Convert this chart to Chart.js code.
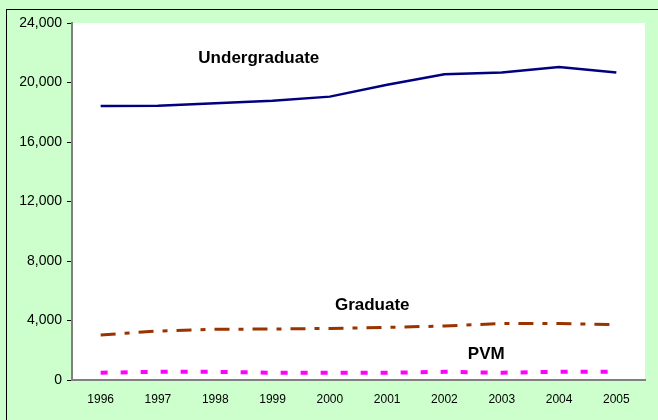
<!DOCTYPE html>
<html>
<head>
<meta charset="utf-8">
<script src="https://cdn.jsdelivr.net/npm/chart.js@4"></script>
<style>
    html, body { margin: 0; padding: 0; background: #ccffcc; }
    #wrap { width: 658px; height: 420px; }
</style>
</head>
<body>
<div id="wrap"><canvas id="chart" width="658" height="420"></canvas></div>
<script>
const years = ['1996', '1997', '1998', '1999', '2000', '2001', '2002', '2003', '2004', '2005'];
const undergraduate = [18420, 18440, 18600, 18780, 19050, 19850, 20550, 20680, 21050, 20680];
const graduate = [3030, 3290, 3410, 3430, 3470, 3540, 3630, 3800, 3800, 3720];
const pvm = [490, 550, 550, 490, 490, 490, 550, 490, 550, 550];
const yTicks = [0, 4000, 8000, 12000, 16000, 20000, 24000];

// series names drawn inside the plot, anchored in data units (category index, value)
const seriesLabels = [
    { text: 'Undergraduate', x: 2.76, y: 21650 },
    { text: 'Graduate', x: 4.74, y: 5050 },
    { text: 'PVM', x: 6.73, y: 1750 }
];

const FONT = '"Liberation Sans", Arial, sans-serif';

const frame = {
    id: 'frame',
    beforeDraw(chart) {
        const { ctx, chartArea: a } = chart;
        ctx.save();
        ctx.fillStyle = '#ccffcc';
        ctx.fillRect(0, 0, chart.width, chart.height);
        ctx.strokeStyle = '#000000';
        ctx.lineWidth = 1;
        ctx.strokeRect(6.5, 9.5, chart.width, chart.height);
        ctx.fillStyle = '#ffffff';
        ctx.fillRect(a.left, a.top, a.right - a.left, a.bottom - a.top);
        ctx.restore();
    },
    afterDraw(chart) {
        const { ctx } = chart;
        const xs = chart.scales.x, ys = chart.scales.y;
        ctx.save();
        ctx.font = 'bold 17px ' + FONT;
        ctx.fillStyle = '#000000';
        ctx.textAlign = 'center';
        ctx.textBaseline = 'middle';
        seriesLabels.forEach(l => {
            ctx.fillText(l.text, xs.getPixelForValue(l.x), ys.getPixelForValue(l.y));
        });
        ctx.restore();
    }
};

new Chart(document.getElementById('chart'), {
    type: 'line',
    data: {
        labels: years,
        datasets: [
            {
                label: 'Undergraduate',
                data: undergraduate,
                borderColor: '#000080',
                borderWidth: 2.5,
                pointRadius: 0,
                tension: 0
            },
            {
                label: 'Graduate',
                data: graduate,
                borderColor: '#993300',
                borderWidth: 3,
                borderDash: [15, 9, 5, 9],
                pointRadius: 0,
                tension: 0
            },
            {
                label: 'PVM',
                data: pvm,
                borderColor: '#ff00ff',
                borderWidth: 4,
                borderDash: [7, 13],
                borderCapStyle: 'butt',
                pointRadius: 0,
                tension: 0
            }
        ]
    },
    options: {
        responsive: false,
        animation: false,
        layout: { padding: { left: 0, top: 23, right: 13, bottom: 0 } },
        plugins: { legend: { display: false }, tooltip: { enabled: false } },
        scales: {
            x: {
                offset: true,
                grid: { display: false, drawTicks: false },
                border: { display: true, color: '#808080', width: 2 },
                ticks: { color: '#000000', font: { family: FONT, size: 12 }, padding: 12, maxRotation: 0 },
                afterFit: s => { s.height = 40; }
            },
            y: {
                min: 0,
                max: 24000,
                afterBuildTicks: s => { s.ticks = yTicks.map(v => ({ value: v })); },
                grid: { drawOnChartArea: false, drawTicks: true, tickLength: 5, color: '#000000' },
                border: { display: true, color: '#808080', width: 2 },
                ticks: {
                    color: '#000000',
                    font: { family: FONT, size: 14 },
                    padding: 5,
                    callback: v => v.toLocaleString('en-US')
                },
                afterFit: s => { s.width = 72; }
            }
        }
    },
    plugins: [frame]
});
</script>
</body>
</html>
